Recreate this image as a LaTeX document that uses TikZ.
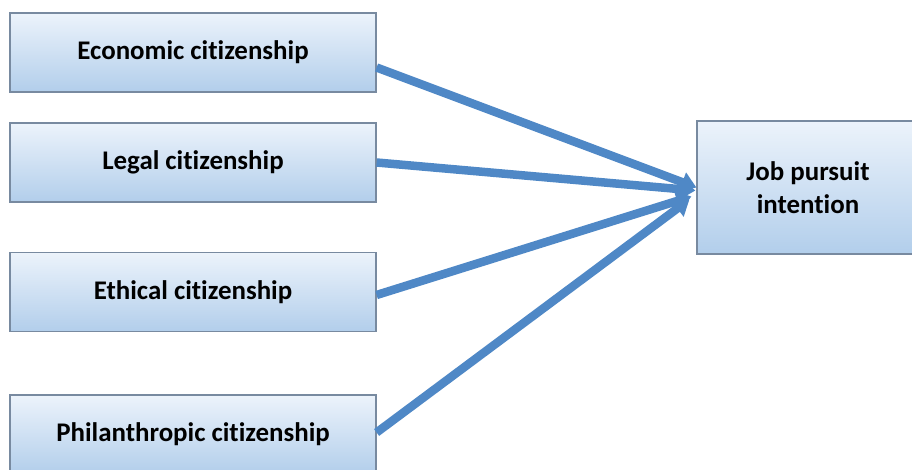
\documentclass[tikz,border=0pt]{standalone}
\usepackage{fontspec}
\setmainfont{Carlito}[Ligatures=NoCommon]
\usetikzlibrary{arrows.meta}

\definecolor{boxline}{RGB}{120,138,160}
\definecolor{boxtop}{RGB}{236,243,251}
\definecolor{boxbot}{RGB}{178,206,235}
\definecolor{arrowblue}{RGB}{79,136,198}
\definecolor{arrowedge}{RGB}{60,104,156}

\tikzset{
  factor/.style={draw=boxline, line width=1.2bp, top color=boxtop, bottom color=boxbot,
    minimum width=366bp, minimum height=79bp, inner sep=0pt, align=center,
    font=\fontsize{27}{33}\selectfont\bfseries},
  link/.style={draw=arrowblue, line width=8.5bp,
    -{Triangle[length=15bp,width=20bp,fill=arrowblue]}}
}

\begin{document}
\begin{tikzpicture}[x=1bp,y=-1bp]
\useasboundingbox (0,0) rectangle (912,470);

\node[factor] (econ) at (193,52.5) {Economic citizenship};
\node[factor] (legal) at (193,162.5) {Legal citizenship};
\node[factor] (ethic) at (193,292) {Ethical citizenship};
\node[factor] (phil) at (193,434.5) {Philanthropic citizenship};

\node[factor, minimum width=222bp, minimum height=133bp] (job) at (808,187.5) {Job pursuit\\intention};

\draw[link] ([yshift=-15bp]econ.east) -- (job.west);
\draw[link] (legal.east) -- ([xshift=-1bp,yshift=-3bp]job.west);
\draw[link] ([yshift=-3bp]ethic.east) -- ([xshift=-5bp,yshift=-9bp]job.west);
\draw[link] ([yshift=2bp]phil.east) -- ([xshift=-7bp,yshift=-12bp]job.west);

\end{tikzpicture}
\end{document}
